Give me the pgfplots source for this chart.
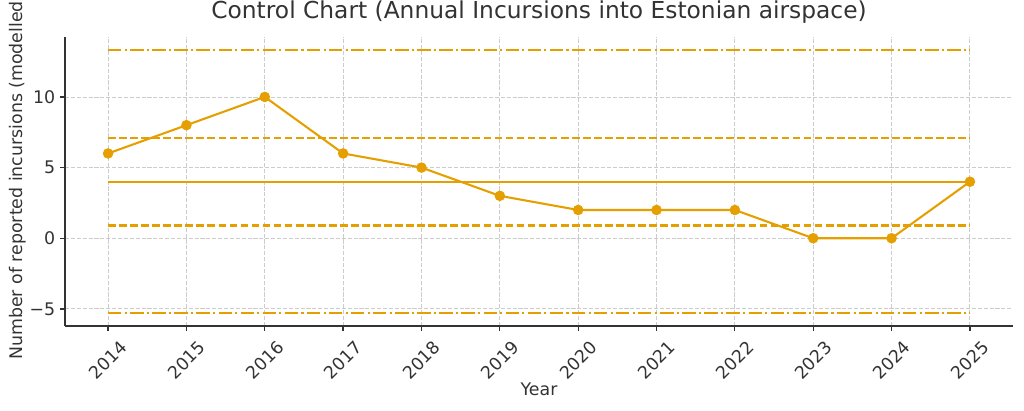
\documentclass[border=0pt]{standalone}
\usepackage{pgfplots}
\pgfplotsset{compat=1.18}
\usepackage{fontspec}
\setmainfont{DejaVu Sans}
\definecolor{cc}{HTML}{E69F00}
\definecolor{txt}{HTML}{333333}
\definecolor{gridc}{HTML}{CCCCCC}

\begin{document}
\begin{tikzpicture}[x=1bp,y=1bp]
  \useasboundingbox (-46.8,-60.48) rectangle (690.48,234.72);
  \begin{axis}[
    at={(0,0)}, anchor=south west,
    scale only axis,
    width=682.56bp, height=208.08bp,
    xmin=2013.45, xmax=2025.55,
    ymin=-6.21, ymax=14.24,
    axis x line*=bottom, axis y line*=left,
    axis line style={txt, line width=0.9bp},
    xtick={2014,2015,...,2025},
    ytick={-5,0,5,10},
    yticklabels={−5,0,5,10},
    /pgf/number format/assume math mode=true,
    /pgf/number format/1000 sep={},
    tick align=outside,
    major tick length=3.5bp,
    tick style={txt, line width=0.9bp},
    ticklabel style={font=\fontsize{12.5bp}{14bp}\selectfont, text=txt},
    xticklabel style={yshift=-21.2bp, rotate=45, anchor=center},
    grid=major,
    major grid style={gridc, line width=0.6bp, dash pattern=on 2.96bp off 1.28bp},
    title={Control Chart (Annual Incursions into Estonian airspace)},
    title style={at={(axis description cs:0.5,1.0588)}, anchor=center, yshift=0pt,
      font=\fontsize{16.8bp}{19bp}\selectfont, text=txt},
    xlabel={Year},
    xlabel style={at={(axis description cs:0.5,-0.218)}, anchor=center,
      font=\fontsize{12.5bp}{14bp}\selectfont, text=txt},
    ylabel={Number of reported incursions (modelled)},
    ylabel style={at={(axis description cs:-0.0495,0.5156)}, anchor=center,
      font=\fontsize{12.5bp}{14bp}\selectfont, text=txt},
  ]
    % upper / lower control limits
    \addplot[cc, line width=1.5bp, dash pattern=on 9.6bp off 2.4bp on 1.5bp off 2.4bp]
      coordinates {(2014,13.3) (2025,13.3)};
    \addplot[cc, line width=1.5bp, dash pattern=on 9.6bp off 2.4bp on 1.5bp off 2.4bp]
      coordinates {(2014,-5.3) (2025,-5.3)};
    % +/- 1 sigma
    \addplot[cc, line width=1.5bp, dash pattern=on 5.55bp off 2.4bp]
      coordinates {(2014,7.1) (2025,7.1)};
    \addplot[cc, line width=1.5bp, dash pattern=on 5.55bp off 2.4bp]
      coordinates {(2014,0.9) (2025,0.9)};
    % mean
    \addplot[cc, line width=1.5bp]
      coordinates {(2014,4) (2025,4)};
    % annual incursions
    \addplot[cc, line width=1.5bp, mark=*, mark size=3bp, mark options={solid, fill=cc, draw=cc}]
      coordinates {
        (2014,6) (2015,8) (2016,10) (2017,6) (2018,5) (2019,3)
        (2020,2) (2021,2) (2022,2) (2023,0) (2024,0) (2025,4)
      };
  \end{axis}
\end{tikzpicture}
\end{document}
